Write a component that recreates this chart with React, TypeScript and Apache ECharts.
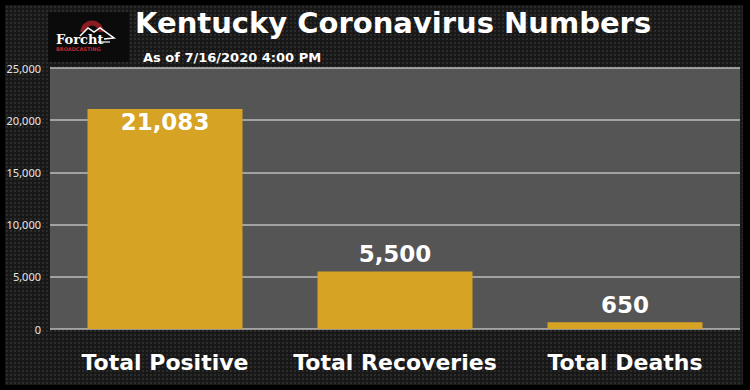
import React, { useEffect, useRef } from "react";
import * as echarts from "echarts";

const categories = ["Total Positive", "Total Recoveries", "Total Deaths"];
const values = [21083, 5500, 650];
const yTicks = [0, 5000, 10000, 15000, 20000, 25000];
const titleText = "Kentucky Coronavirus Numbers";
const subtitleText = "As of 7/16/2020 4:00 PM";

const BOLD_FONT = "'DejaVu Sans', 'Noto Sans', sans-serif";

export default function App() {
  const ref = useRef<HTMLDivElement>(null);

  useEffect(() => {
    if (!ref.current) return;
    const chart = echarts.init(ref.current, undefined, { renderer: "svg" });
    const option: any = {
      animation: false,
      backgroundColor: "transparent",
      grid: {
        left: 50,
        right: 10,
        top: 68,
        bottom: 61,
        show: true,
        backgroundColor: "#555555",
        borderWidth: 0,
      },
      title: [
        {
          text: titleText,
          left: 130,
          top: 3,
          textStyle: {
            color: "#ffffff",
            fontSize: 29,
            fontWeight: "bold",
            fontFamily: BOLD_FONT,
          },
        },
        {
          text: subtitleText,
          left: 138,
          top: 46,
          textStyle: {
            color: "#ffffff",
            fontSize: 13,
            fontWeight: "bold",
            fontFamily: BOLD_FONT,
          },
        },
      ],
      xAxis: {
        type: "category",
        data: categories,
        axisLine: { show: false },
        axisTick: { show: false },
        axisLabel: {
          color: "#ffffff",
          fontSize: 22,
          fontWeight: "bold",
          fontFamily: BOLD_FONT,
          margin: 22,
          interval: 0,
          hideOverlap: false,
        },
      },
      yAxis: {
        type: "value",
        min: yTicks[0],
        max: yTicks[yTicks.length - 1],
        interval: yTicks[1] - yTicks[0],
        axisLine: { show: false },
        axisTick: { show: false },
        axisLabel: {
          color: "#e6e6e6",
          fontSize: 11,
          fontFamily: "'Noto Sans', sans-serif",
          margin: 9,
          formatter: (v: number) => v.toLocaleString("en-US"),
        },
        splitLine: { lineStyle: { color: "#bdbdbd", width: 1.5 } },
      },
      series: [
        {
          type: "bar",
          barWidth: 155,
          itemStyle: { color: "#D6A324" },
          data: values.map((v, i) => ({
            value: v,
            label: {
              show: true,
              position: i === 0 ? "insideTop" : "top",
              distance: i === 0 ? 2 : 6,
              color: "#ffffff",
              fontSize: 23,
              fontWeight: "bold",
              fontFamily: BOLD_FONT,
              formatter: (p: any) => Number(p.value).toLocaleString("en-US"),
            },
          })),
        },
      ],
      graphic: [
        {
          type: "group",
          left: 48,
          top: 12,
          children: [
            { type: "rect", shape: { x: 0, y: 0, width: 81, height: 50 }, style: { fill: "#0b0b0b" } },
            {
              type: "arc",
              shape: { cx: 44, cy: 20, r: 9, startAngle: Math.PI, endAngle: 2 * Math.PI },
              style: { stroke: "#8a1c22", lineWidth: 5, fill: "none" },
            },
            {
              type: "polyline",
              shape: { points: [[32, 24], [40, 16], [46, 20], [52, 16], [66, 26], [56, 27]] },
              style: { stroke: "#ffffff", lineWidth: 1.5, fill: "none" },
            },
            {
              type: "text",
              style: {
                text: "Forcht",
                x: 8,
                y: 21,
                fill: "#ffffff",
                fontSize: 13,
                fontWeight: "bold",
                fontFamily: "'DejaVu Serif', 'Liberation Serif', serif",
              },
            },
            {
              type: "line",
              shape: { x1: 50, y1: 30, x2: 62, y2: 30 },
              style: { stroke: "#ffffff", lineWidth: 1.2 },
            },
            {
              type: "text",
              style: {
                text: "BROADCASTING",
                x: 8,
                y: 34,
                fill: "#c0262e",
                fontSize: 5,
                fontWeight: "bold",
                fontFamily: "'DejaVu Sans', sans-serif",
              },
            },
          ],
        },
      ],
    };
    chart.setOption(option);
    return () => chart.dispose();
  }, []);

  return (
    <div
      style={{
        position: "fixed",
        left: 0,
        top: 0,
        width: 750,
        height: 390,
        background: "#000000",
        overflow: "hidden",
      }}
    >
      <div
        style={{
          position: "absolute",
          left: 5,
          top: 5,
          width: 738,
          height: 380,
          backgroundColor: "#181818",
          backgroundImage: "radial-gradient(circle, #2c2c2c 1px, transparent 1.4px)",
          backgroundSize: "4px 4px",
        }}
      />
      <div ref={ref} style={{ position: "absolute", left: 0, top: 0, width: 750, height: 390 }} />
    </div>
  );
}
